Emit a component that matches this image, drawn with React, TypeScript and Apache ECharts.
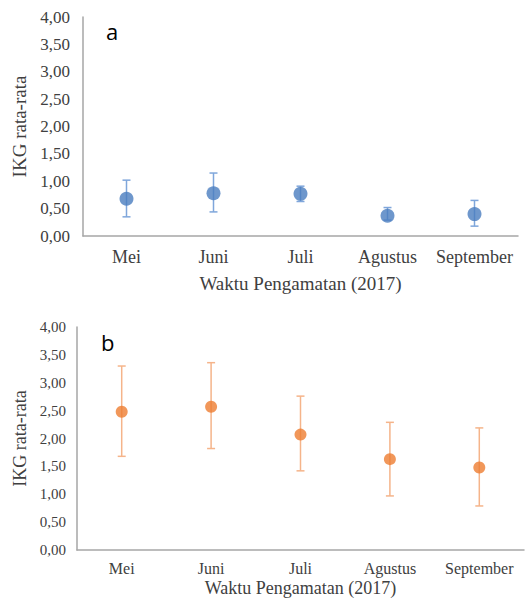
import React, { useEffect, useRef } from "react";
import * as echarts from "echarts";

const months = ["Mei", "Juni", "Juli", "Agustus", "September"];
const meanA = [0.68, 0.78, 0.77, 0.37, 0.4];
const lowA = [0.35, 0.44, 0.63, 0.29, 0.18];
const highA = [1.02, 1.15, 0.91, 0.52, 0.65];
const meanB = [2.48, 2.57, 2.07, 1.63, 1.48];
const lowB = [1.68, 1.82, 1.42, 0.97, 0.79];
const highB = [3.3, 3.36, 2.76, 2.29, 2.19];
const yMin = 0;
const yMax = 4;
const yStep = 0.5;
const xTitle = "Waktu Pengamatan (2017)";
const yTitle = "IKG rata-rata";

const fmt = (v: number) => v.toFixed(2).replace(".", ",");

function errSeries(gi: number, low: number[], high: number[], color: string) {
  return {
    type: "custom",
    xAxisIndex: gi,
    yAxisIndex: gi,
    data: low.map((l, i) => [i, l, high[i]]),
    z: 1,
    renderItem: (params: any, api: any) => {
      const i = api.value(0);
      const lo = api.coord([i, api.value(1)]);
      const hi = api.coord([i, api.value(2)]);
      const w = 4;
      const style = { stroke: color, lineWidth: 1.5 };
      return {
        type: "group",
        children: [
          { type: "line", shape: { x1: lo[0], y1: lo[1], x2: hi[0], y2: hi[1] }, style },
          { type: "line", shape: { x1: lo[0] - w, y1: lo[1], x2: lo[0] + w, y2: lo[1] }, style },
          { type: "line", shape: { x1: hi[0] - w, y1: hi[1], x2: hi[0] + w, y2: hi[1] }, style },
        ],
      };
    },
  };
}

export default function App() {
  const ref = useRef<HTMLDivElement>(null);
  useEffect(() => {
    if (!ref.current) return;
    const chart = echarts.init(ref.current, null, { renderer: "svg" });
    const serif = "'Liberation Serif', 'Times New Roman', serif";
    const axisLine = { show: true, lineStyle: { color: "#a6a6a6", width: 1.5 } };
    const mkX = (gi: number, size: number, labelGap: number, nameGap: number, nameSize: number) => ({
      type: "category",
      gridIndex: gi,
      data: months,
      axisLine,
      axisTick: { show: false },
      axisLabel: { interval: 0, fontFamily: serif, fontSize: size, color: "#404040", margin: labelGap },
      name: xTitle,
      nameLocation: "middle",
      nameGap,
      nameTextStyle: { fontFamily: serif, fontSize: nameSize, color: "#404040" },
    });
    const mkY = (gi: number, size: number, margin: number, nameGap: number, nameSize: number) => ({
      type: "value",
      gridIndex: gi,
      min: yMin,
      max: yMax,
      interval: yStep,
      axisLine,
      axisTick: { show: false },
      splitLine: { show: false },
      axisLabel: { fontFamily: serif, fontSize: size, color: "#404040", margin, formatter: fmt },
      name: yTitle,
      nameLocation: "middle",
      nameGap,
      nameTextStyle: { fontFamily: serif, fontSize: nameSize, color: "#404040" },
    });
    chart.setOption({
      animation: false,
      backgroundColor: "#ffffff",
      grid: [
        { left: 83, top: 17, width: 435, height: 219, outerBoundsMode: "none", containLabel: false },
        { left: 77, top: 327, width: 447, height: 223, outerBoundsMode: "none", containLabel: false },
      ],
      xAxis: [mkX(0, 18, 12, 38, 19), mkX(1, 16, 10, 29, 18)],
      yAxis: [mkY(0, 17, 13, 48, 19), mkY(1, 15, 11, 43, 18)],
      graphic: [
        { type: "text", left: 106, top: 20, style: { text: "a", font: "22px 'Open Sans', sans-serif", fill: "#000" } },
        { type: "text", left: 101, top: 331, style: { text: "b", font: "22px 'Open Sans', sans-serif", fill: "#000" } },
      ],
      series: [
        errSeries(0, lowA, highA, "#7fa6db"),
        {
          type: "scatter",
          xAxisIndex: 0,
          yAxisIndex: 0,
          data: meanA,
          symbolSize: 14,
          z: 2,
          itemStyle: { color: "#4a7dbf" },
        },
        errSeries(1, lowB, highB, "#f5b48a"),
        {
          type: "scatter",
          xAxisIndex: 1,
          yAxisIndex: 1,
          data: meanB,
          symbolSize: 12,
          z: 2,
          itemStyle: { color: "#ed7d31" },
        },
      ],
    });
    return () => chart.dispose();
  }, []);
  return (
    <div
      ref={ref}
      style={{ position: "absolute", left: 0, top: 0, width: 529, height: 599 }}
    />
  );
}
